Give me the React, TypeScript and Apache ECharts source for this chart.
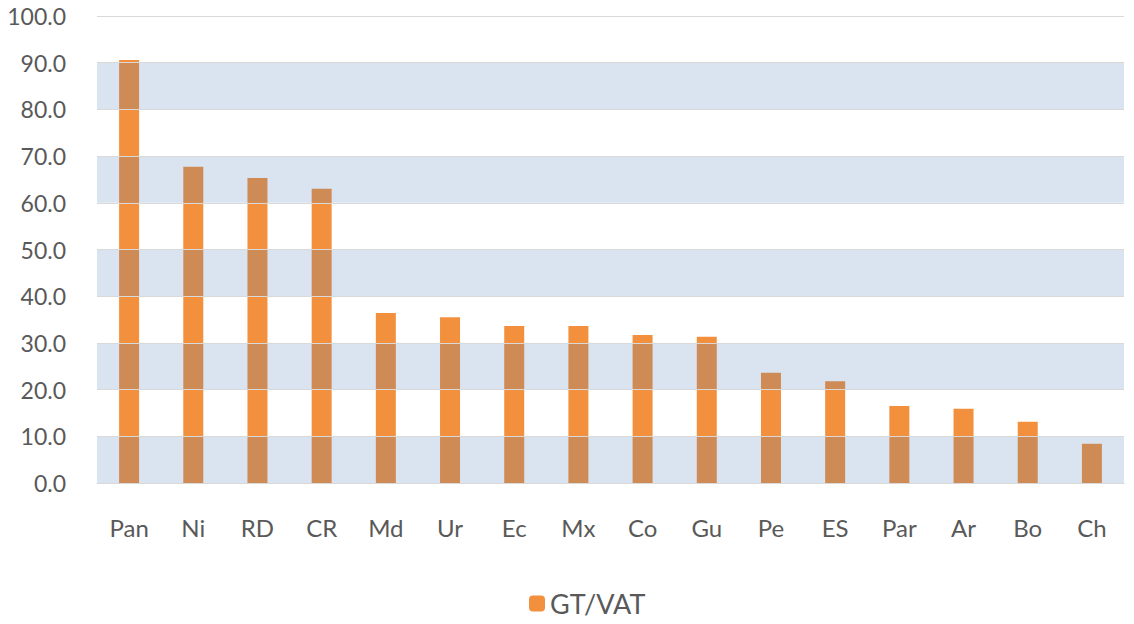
import React, { useEffect, useRef } from "react";
import * as echarts from "echarts";

const categories = ["Pan", "Ni", "RD", "CR", "Md", "Ur", "Ec", "Mx", "Co", "Gu", "Pe", "ES", "Par", "Ar", "Bo", "Ch"];
const gtVat = [90.6, 67.7, 65.3, 63.0, 36.4, 35.5, 33.6, 33.6, 31.7, 31.3, 23.6, 21.8, 16.5, 15.9, 13.1, 8.4];
const seriesName = "GT/VAT";

export default function App() {
  const ref = useRef<HTMLDivElement>(null);
  useEffect(() => {
    const chart = echarts.init(ref.current!, null, { renderer: "svg" });
    chart.setOption({
      animation: false,
      textStyle: { fontFamily: "Lato" },
      grid: { left: 97, right: 10, top: 16, bottom: 141 },
      legend: {
        data: [seriesName],
        bottom: 2,
        left: 524,
        itemWidth: 16,
        itemHeight: 16,
        itemGap: 6,
        textStyle: { fontSize: 27, color: "#595959", fontFamily: "Lato" },
      },
      xAxis: {
        type: "category",
        data: categories,
        axisTick: { show: false },
        axisLine: { show: true, lineStyle: { color: "#d0d0d0", width: 1 } },
        axisLabel: { fontSize: 24, color: "#595959", margin: 32, fontFamily: "Lato" },
      },
      yAxis: {
        type: "value",
        min: 0,
        max: 100,
        interval: 10,
        z: 5,
        axisLine: { show: false },
        axisTick: { show: false },
        axisLabel: {
          fontSize: 23,
          color: "#595959",
          margin: 31,
          fontFamily: "Lato",
          formatter: (v: number) => v.toFixed(1),
          padding: [12, 0, 0, 0],
        },
        splitLine: { show: true, lineStyle: { color: "#d9d9d9", width: 1 } },
        splitArea: {
          show: true,
          areaStyle: { color: ["rgba(70,118,185,0.2)", "rgba(255,255,255,0)"] },
        },
      },
      series: [
        {
          name: seriesName,
          type: "bar",
          data: gtVat,
          barWidth: 20,
          itemStyle: { color: "#f2903e" },
        },
      ],
    });
    return () => chart.dispose();
  }, []);
  return <div ref={ref} style={{ width: 1134, height: 624, position: "absolute", left: 0, top: 0 }} />;
}
